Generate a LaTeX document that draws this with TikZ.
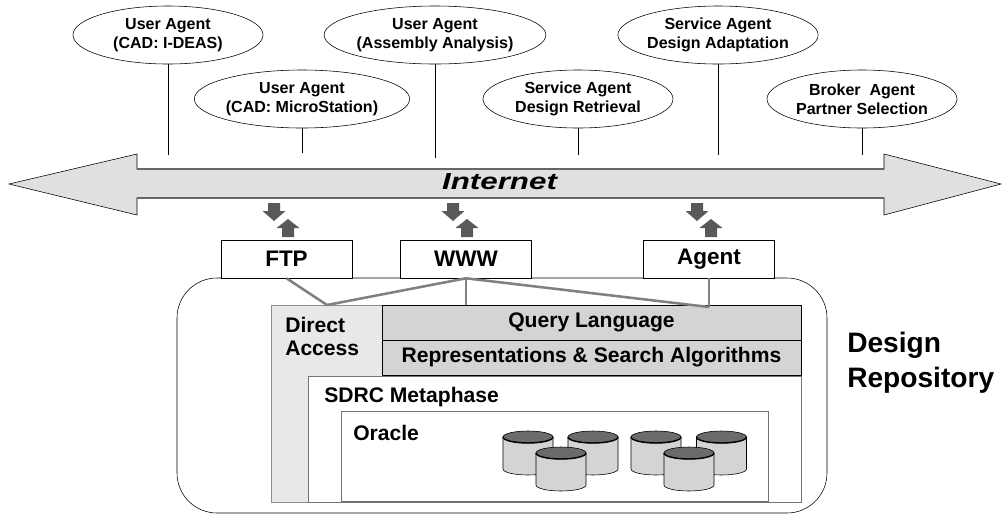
\documentclass[tikz,border=0pt]{standalone}
\usepackage{fontspec}
\setmainfont{Liberation Sans}
\usepackage{tikz}
\usetikzlibrary{shapes.geometric}

\begin{document}
\begin{tikzpicture}[
        x=0.025cm, y=-0.025cm,
        % agents hanging from the net
        agent/.style={
            ellipse,
            draw=black,
            thin,
            fill=white,
            minimum width=4.75cm,
            minimum height=1.45cm,
            inner sep=0pt,
            align=center,
            font=\fontsize{11.4}{13.5}\selectfont\bfseries
        },
        drop/.style={
            draw=black,
            thin
        },
        % access gateways
        proto/.style={
            rectangle,
            draw=black,
            thin,
            fill=white,
            minimum width=3.275cm,
            minimum height=0.95cm,
            font=\fontsize{16}{19}\selectfont\bfseries
        },
        layer/.style={
            rectangle,
            draw=black,
            thin,
            fill=black!17,
            minimum width=10.475cm,
            minimum height=0.875cm,
            inner sep=0pt,
            font=\fontsize{15}{18}\selectfont\bfseries
        },
        boldtext/.style={
            font=\fontsize{15}{16.5}\selectfont\bfseries,
            inner sep=0pt
        },
        link/.style={
            draw=black!50,
            line width=1.8pt
        },
        blk/.style={
            fill=black!65
        },
        dnblk/.pic={
            \fill[blk] (-6,0) -- (6,0) -- (6,8) -- (11.5,8) -- (0,18) -- (-11.5,8) -- (-6,8) -- cycle;
        },
        upblk/.pic={
            \fill[blk] (-6,18) -- (6,18) -- (6,9) -- (11.5,9) -- (0,0) -- (-11.5,9) -- (-6,9) -- cycle;
        },
        cyl/.pic={
            \filldraw[fill=black!17, draw=black, thin] (-25,0) -- (-25,32)
                arc[start angle=180, end angle=0, x radius=25, y radius=6] -- (25,0) -- cycle;
            \filldraw[fill=black!58, draw=black, thin] (0,0) ellipse[x radius=25, y radius=6];
            \draw[line width=1pt] (-25,0) arc[start angle=180, end angle=0, x radius=25, y radius=6];
        }
    ]

    \useasboundingbox (0,0) rectangle (1002,515);

    % --- AGENTS ---
    \node[agent] (ideas) at (168,35) {User Agent\\(CAD: I-DEAS)};
    \node[agent] (mstation) at (302,99) {User Agent\\(CAD: MicroStation)};
    \node[agent] (assembly) at (435,35) {User Agent\\(Assembly Analysis)};
    \node[agent] (retrieval) at (578,99) {Service Agent\\Design Retrieval};
    \node[agent] (adaptation) at (718,35) {Service Agent\\Design Adaptation};
    \node[agent] (broker) at (862,99) {Broker~ Agent\\Partner Selection};

    \coordinate (ideasnet) at (168,155);
    \coordinate (mstationnet) at (302,153);
    \coordinate (assemblynet) at (435,158);
    \coordinate (retrievalnet) at (578,155);
    \coordinate (adaptationnet) at (718,155);
    \coordinate (brokernet) at (862,155);

    \draw[drop] (ideas) -- (ideasnet);
    \draw[drop] (mstation) -- (mstationnet);
    \draw[drop] (assembly) -- (assemblynet);
    \draw[drop] (retrieval) -- (retrievalnet);
    \draw[drop] (adaptation) -- (adaptationnet);
    \draw[drop] (broker) -- (brokernet);

    % --- INTERNET ---
    \filldraw[fill=black!12, draw=black, thin] (9,184) -- (137,154) -- (137,169) -- (884,169)
        -- (884,154) -- (1001,184) -- (884,215) -- (884,198) -- (137,198) -- (137,215) -- cycle;
    \draw[black!60, line width=1.2pt] (137,169) -- (884,169);
    \draw[black!60, line width=1.2pt] (137,198) -- (884,198);
    \node[anchor=base, inner sep=0pt, font=\fontsize{16.5}{19}\selectfont\bfseries\itshape] (net) at (499.5,189)
        {\scalebox{1.35}[1]{Internet}};

    % --- DESIGN REPOSITORY ---
    \draw[thin, rounded corners=1cm] (177,278) rectangle (827,513);

    % Gateways
    \node[proto] (ftp) at (286.5,259) {FTP};
    \node[proto] (www) at (466,259) {WWW};
    \node[proto] (agentgw) at (709,259) {Agent};

    \pic at (274,203) {dnblk};
    \pic at (288,219) {upblk};
    \pic at (453,203) {dnblk};
    \pic at (467,219) {upblk};
    \pic at (697,203) {dnblk};
    \pic at (711,219) {upblk};

    % Layers
    \draw[draw=black!45, fill=black!9] (271,305) rectangle (801,502);
    \node[layer] (query) at (591.5,322.5) {Query Language};
    \node[layer] (repr) at (591.5,357.5) {Representations \& Search Algorithms};
    \draw[draw=black!55, fill=white] (308,376) rectangle (801,502);
    \draw[draw=black!55, fill=white] (341,411) rectangle (768,501);

    \coordinate (dacc) at (327,305);
    \coordinate (qlmid) at (466,305);
    \coordinate (qlend) at (709,307);

    \draw[link] (ftp.south) -- (dacc);
    \draw[link] (www.south) -- (dacc);
    \draw[link] (www.south) -- (qlmid);
    \draw[link] (www.south) -- (qlend);
    \draw[link] (agentgw.south) -- (qlend);

    \node[boldtext, anchor=north west, align=left] (direct) at (285,317) {Direct\\Access};
    \node[boldtext, anchor=base west] (sdrc) at (324,402) {SDRC Metaphase};
    \node[boldtext, anchor=base west] (oracle) at (353,440) {Oracle};
    \node[anchor=north west, align=left, inner sep=0pt, font=\fontsize{20}{25}\selectfont\bfseries] (repo)
        at (847,332) {Design\\Repository};

    % Databases
    \pic at (528,437) {cyl};
    \pic at (593,437) {cyl};
    \pic at (656,437) {cyl};
    \pic at (721.5,437) {cyl};
    \pic at (561,453) {cyl};
    \pic at (689,453) {cyl};

\end{tikzpicture}
\end{document}
